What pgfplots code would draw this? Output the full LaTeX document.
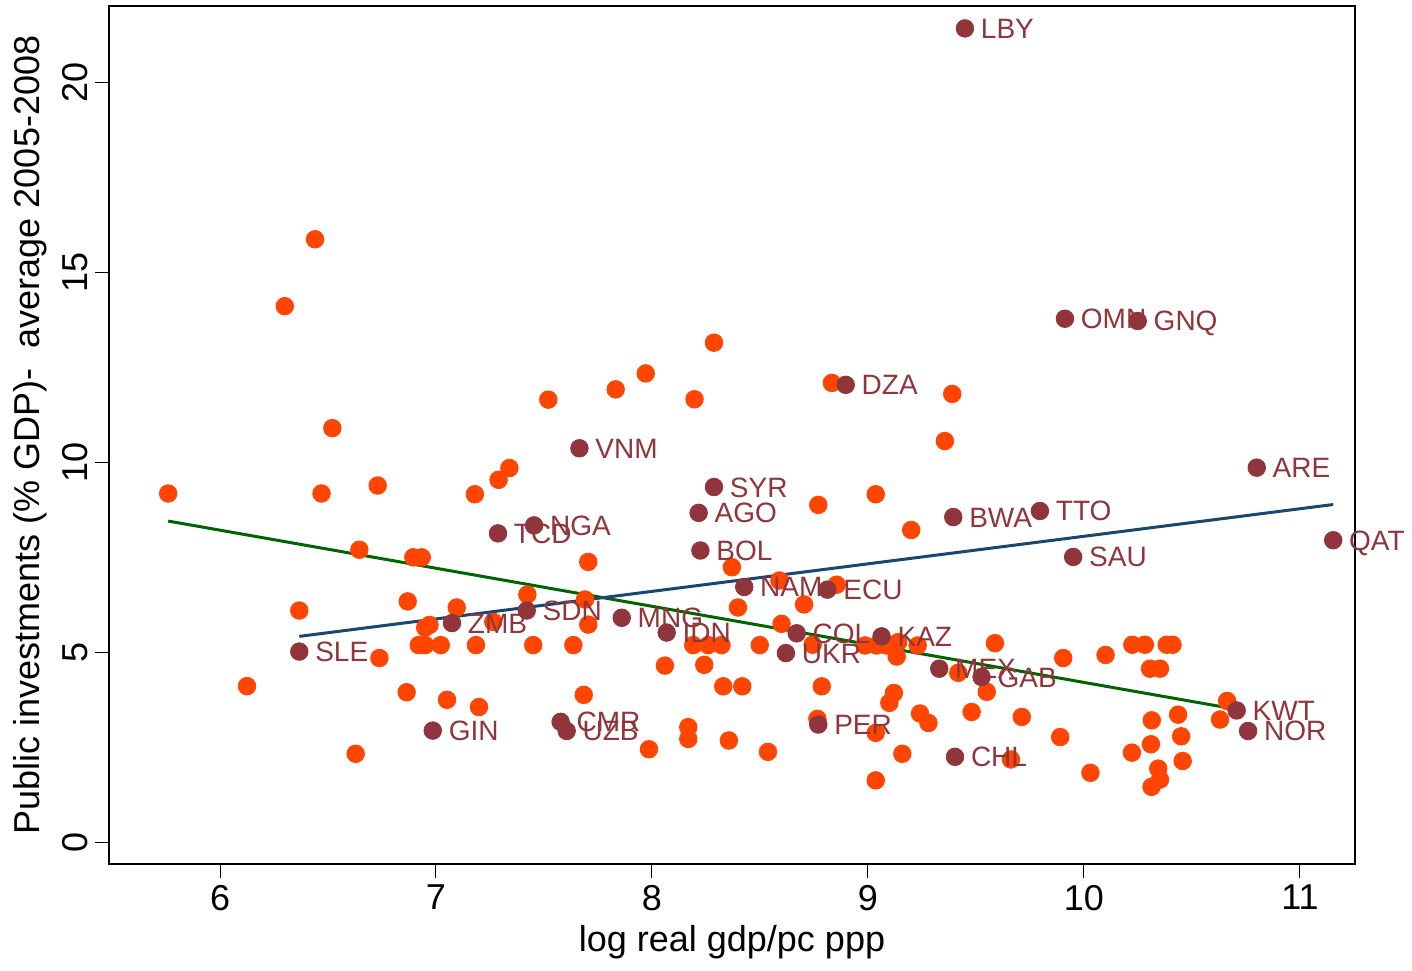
\documentclass[border=0pt]{standalone}
\usepackage{fontspec}
\setmainfont{Liberation Sans}
\usepackage{pgfplots}
\pgfplotsset{compat=1.18}
\usepackage{pgfplotstable}

\definecolor{orng}{RGB}{255,69,0}
\definecolor{cranb}{RGB}{144,53,59}
\definecolor{fitgreen}{RGB}{0,100,0}
\definecolor{fitnavy}{RGB}{26,71,111}

% other countries
\pgfplotstableread{
x y
6.44 15.87
6.30 14.11
6.52 10.90
5.76 9.18
6.47 9.18
6.73 9.39
7.18 9.16
7.29 9.54
7.34 9.85
7.52 11.65
6.645 7.70
6.895 7.50
6.934 7.50
6.367 6.10
6.869 6.34
7.096 6.18
7.423 6.52
6.95 5.65
6.97 5.72
7.265 5.80
6.738 4.85
6.92 5.19
6.95 5.19
7.022 5.19
7.185 5.19
7.45 5.19
6.125 4.11
6.864 3.95
7.051 3.75
7.199 3.56
6.628 2.33
8.287 13.15
7.971 12.34
7.832 11.92
8.197 11.66
8.833 12.09
9.39 11.80
9.356 10.56
8.77 8.88
9.036 9.16
9.20 8.22
7.705 7.38
8.37 7.24
8.59 6.89
8.855 6.78
8.704 6.26
8.398 6.18
7.69 6.39
7.705 5.73
7.636 5.19
8.191 5.19
8.26 5.19
8.322 5.19
8.499 5.19
8.06 4.65
8.242 4.67
8.33 4.105
8.418 4.105
7.684 3.88
8.168 3.03
8.168 2.72
7.986 2.45
8.356 2.68
8.537 2.38
8.60 5.75
8.744 5.20
8.986 5.18
9.04 5.18
9.086 5.18
9.14 5.27
9.133 4.89
9.23 5.18
8.786 4.105
8.766 3.25
9.036 2.88
9.12 3.93
9.099 3.67
9.241 3.39
9.28 3.14
9.159 2.33
9.036 1.63
9.418 4.46
9.55 3.96
9.48 3.43
9.588 5.24
9.904 4.85
10.10 4.93
10.224 5.20
10.282 5.20
10.383 5.20
10.41 5.20
10.306 4.57
10.352 4.57
10.663 3.72
10.63 3.23
10.436 3.36
10.314 3.21
10.45 2.79
10.31 2.58
10.222 2.36
10.457 2.14
10.344 1.94
10.352 1.65
10.313 1.46
10.03 1.83
9.89 2.77
9.712 3.30
9.662 2.18
}\others

% resource-rich countries, labelled
\pgfplotstableread{
x y label
6.367 5.02 SLE
7.074 5.77 ZMB
6.985 2.94 GIN
7.42 6.10 SDN
7.287 8.13 TCD
7.454 8.34 NGA
7.664 10.37 VNM
7.577 3.17 CMR
7.605 2.93 UZB
7.86 5.91 MNG
8.068 5.52 IDN
8.287 9.35 SYR
8.216 8.67 AGO
8.224 7.68 BOL
8.427 6.72 NAM
8.812 6.65 ECU
8.897 12.04 DZA
8.67 5.50 COL
8.62 4.98 UKR
9.063 5.42 KAZ
8.77 3.10 PER
9.33 4.57 MEX
9.526 4.35 GAB
9.403 2.25 CHL
9.395 8.56 BWA
9.449 21.42 LBY
9.912 13.78 OMN
10.249 13.72 GNQ
9.796 8.72 TTO
9.95 7.51 SAU
10.80 9.86 ARE
11.154 7.95 QAT
10.707 3.47 KWT
10.76 2.93 NOR
}\resource

\begin{document}
\begin{tikzpicture}
\begin{axis}[
  scale only axis, width=623pt, height=429pt,
  xmin=5.486, xmax=11.255, ymin=-0.571, ymax=22.01,
  xtick={6,...,11}, ytick={0,5,...,20},
  tick align=outside, xtick pos=lower, ytick pos=left,
  major tick length=7pt,
  tick style={black, line width=0.5pt},
  axis line style={line width=0.8pt},
  clip=false,
  /pgf/number format/assume math mode=true,
  ticklabel style={font=\fontsize{18}{20}\selectfont},
  yticklabel style={rotate=90, anchor=south},
  label style={font=\fontsize{18}{20}\selectfont},
  xlabel={log real gdp/pc ppp},
  xlabel style={at={(axis description cs:0.5,-0.1014)}, anchor=base},
  ylabel={Public investments (\% GDP)-~~average 2005-2008},
  ylabel style={at={(axis description cs:-0.0554,0.5)}, anchor=base},
]
\coordinate (sw) at (rel axis cs:0,0);
\coordinate (ne) at (rel axis cs:1,1);

\addplot[only marks, mark=*, mark size=4.4pt, orng] table {\others};

\addplot[fitgreen, line width=1.5pt] coordinates {(5.76,8.455) (10.707,3.50)};
\addplot[fitnavy, line width=1.5pt] coordinates {(6.367,5.42) (11.154,8.89)};

\addplot[only marks, mark=*, mark size=4.4pt, cranb,
  point meta=explicit symbolic, nodes near coords,
  nodes near coords style={anchor=base west, inner sep=0pt,
    xshift=7.8pt, yshift=-5pt, font=\fontsize{14}{16}\selectfont, text=cranb}
] table[meta=label] {\resource};
\end{axis}
\pgfresetboundingbox
\path[use as bounding box] ([xshift=-54.5pt,yshift=-53pt]sw) rectangle ([xshift=28.5pt,yshift=3pt]ne);
\end{tikzpicture}
\end{document}
